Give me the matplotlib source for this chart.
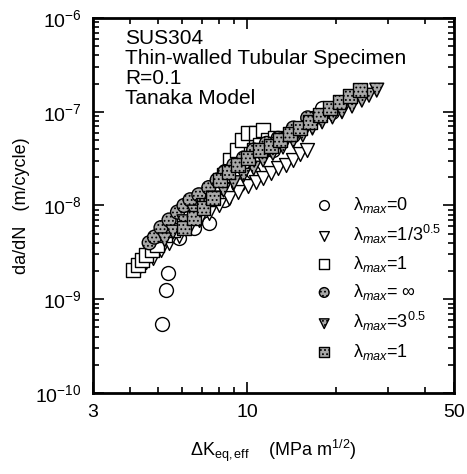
import numpy as np
import matplotlib
matplotlib.use("Agg")
import matplotlib.pyplot as plt
from matplotlib.ticker import NullFormatter, FixedLocator, LogLocator

plt.rcParams['font.family'] = ['Liberation Sans', 'DejaVu Sans']
plt.rcParams['mathtext.fontset'] = 'custom'
plt.rcParams['mathtext.rm'] = 'Liberation Sans'
plt.rcParams['mathtext.it'] = 'Liberation Sans:italic'
plt.rcParams['hatch.linewidth'] = 0.8

# lambda_max = 0 (open circles)
k_l0 = [5.15, 5.31, 5.38, 5.87, 6.6, 7.4, 8.3, 9.32, 10.46, 12.2, 14.25, 16.6, 17.9, 19.4]
r_l0 = [5.4e-10, 1.26e-9, 1.9e-9, 4.5e-9, 5.75e-9, 6.5e-9, 1.15e-8, 1.65e-8, 2.28e-8,
        3.9e-8, 5.65e-8, 8.6e-8, 1.1e-7, 1.0e-7]

# lambda_max = 1/3^0.5 (open triangles)
k_l13 = [4.31, 4.55, 4.8, 5.1, 5.43, 5.87, 6.34, 6.85, 7.4, 8.0, 8.63, 9.3, 10.07, 10.7,
         11.3, 12.0, 12.7, 13.5, 14.3, 15.1, 15.9]
r_l13 = [2.15e-9, 2.5e-9, 2.75e-9, 3.35e-9, 4.0e-9, 4.7e-9, 5.75e-9, 7.0e-9, 8.3e-9, 1.0e-8,
         1.2e-8, 1.4e-8, 1.6e-8, 1.8e-8, 1.98e-8, 2.2e-8, 2.5e-8, 2.7e-8, 3.06e-8, 3.5e-8, 3.9e-8]

# lambda_max = 1 (open squares)
k_l1 = [4.1, 4.25, 4.4, 4.55, 4.75, 4.95, 5.25, 5.6, 6.1, 6.85, 7.65, 8.3, 8.75, 9.2, 9.6,
        10.07, 10.7, 11.3, 11.05, 11.7, 12.4, 10.5]
r_l1 = [2.05e-9, 2.3e-9, 2.6e-9, 2.95e-9, 3.35e-9, 3.8e-9, 4.9e-9, 5.5e-9, 7.9e-9, 1.0e-8,
        1.46e-8, 2.1e-8, 3.06e-8, 3.9e-8, 5.0e-8, 5.9e-8, 5.9e-8, 6.4e-8, 4.4e-8, 5.0e-8,
        5.2e-8, 3.9e-8]

# lambda_max = infinity (hatched circles)
k_linf = [4.65, 4.85, 5.1, 5.43, 5.8, 6.1, 6.4, 6.85, 7.4, 7.9, 8.4, 9.0, 9.7, 10.5, 11.6,
          12.7, 14.3, 16.0]
r_linf = [4.0e-9, 4.6e-9, 5.8e-9, 7.0e-9, 8.5e-9, 1.0e-8, 1.15e-8, 1.3e-8, 1.55e-8, 1.87e-8,
          2.3e-8, 2.7e-8, 3.2e-8, 3.9e-8, 4.6e-8, 5.2e-8, 6.7e-8, 8.6e-8]

# lambda_max = 3^0.5 (hatched triangles)
k_l3 = [5.25, 5.6, 6.1, 6.6, 7.1, 7.65, 8.3, 9.0, 9.7, 10.5, 11.3, 12.2, 13.2, 14.3, 15.4,
        16.6, 17.9, 19.4, 20.9, 22.6, 24.4, 25.8, 27.4]
r_l3 = [4.3e-9, 5.2e-9, 6.7e-9, 8.5e-9, 1.0e-8, 1.2e-8, 1.46e-8, 1.75e-8, 2.1e-8, 2.5e-8,
        3.06e-8, 3.6e-8, 4.2e-8, 4.9e-8, 5.65e-8, 6.7e-8, 7.8e-8, 8.8e-8, 1.0e-7, 1.15e-7,
        1.33e-7, 1.5e-7, 1.7e-7]

# lambda_max = 1 (hatched squares)
k_l1b = [6.1, 6.6, 7.1, 7.65, 8.1, 8.63, 9.3, 10.07, 11.0, 12.0, 12.9, 13.9, 15.1, 16.3,
         17.6, 19.0, 20.5, 22.2, 24.0]
r_l1b = [5.75e-9, 7.3e-9, 9.4e-9, 1.2e-8, 1.87e-8, 2.3e-8, 2.7e-8, 3.2e-8, 3.9e-8, 4.3e-8,
         5.0e-8, 5.8e-8, 6.7e-8, 7.8e-8, 9.2e-8, 1.1e-7, 1.27e-7, 1.47e-7, 1.7e-7]

fig = plt.figure(figsize=(4.67, 4.74), dpi=100)
ax = fig.add_axes([0.199, 0.171, 0.773, 0.791])

ms = 100
gray = '#a8a8a8'
ax.scatter(k_l0, r_l0, s=ms, marker='o', facecolor='white', edgecolor='black', linewidth=1.0,
           label='\u03bb$_{max}$=0', zorder=3)
ax.scatter(k_l13, r_l13, s=ms, marker='v', facecolor='white', edgecolor='black', linewidth=1.0,
           label='\u03bb$_{max}$=1/3$^{0.5}$', zorder=3)
ax.scatter(k_l1, r_l1, s=ms, marker='s', facecolor='white', edgecolor='black', linewidth=1.0,
           label='\u03bb$_{max}$=1', zorder=3)
ax.scatter(k_linf, r_linf, s=ms, marker='o', facecolor=gray, edgecolor='black', linewidth=1.0,
           hatch='....', label='\u03bb$_{max}$= \u221e', zorder=4)
ax.scatter(k_l3, r_l3, s=ms, marker='v', facecolor=gray, edgecolor='black', linewidth=1.0,
           hatch='....', label='\u03bb$_{max}$=3$^{0.5}$', zorder=4)
ax.scatter(k_l1b, r_l1b, s=ms, marker='s', facecolor=gray, edgecolor='black', linewidth=1.0,
           hatch='....', label='\u03bb$_{max}$=1', zorder=4)

ax.set_xscale('log')
ax.set_yscale('log')
ax.set_xlim(3, 50)
ax.set_ylim(1e-10, 1e-6)

ax.xaxis.set_major_locator(FixedLocator([3, 10, 50]))
ax.set_xticklabels(['3', '10', '50'])
ax.xaxis.set_minor_locator(LogLocator(base=10, subs=np.arange(2, 10), numticks=20))
ax.xaxis.set_minor_formatter(NullFormatter())
ax.yaxis.set_major_locator(FixedLocator([1e-10, 1e-9, 1e-8, 1e-7, 1e-6]))
ax.set_yticklabels([r'10$^{-10}$', r'10$^{-9}$', r'10$^{-8}$', r'10$^{-7}$', r'10$^{-6}$'])
ax.yaxis.set_minor_locator(LogLocator(base=10, subs=np.arange(2, 10), numticks=20))
ax.yaxis.set_minor_formatter(NullFormatter())

ax.tick_params(which='both', direction='in', top=True, right=True, labelsize=14, width=1.2)
ax.tick_params(which='major', length=8, pad=8)
ax.tick_params(which='minor', length=4)
for sp in ax.spines.values():
    sp.set_linewidth(2)

ax.set_xlabel('\u0394K$_\\mathrm{eq,eff}$    (MPa m$^{1/2}$)', fontsize=13, labelpad=12)
ax.set_ylabel('da/dN   (m/cycle)', fontsize=13, labelpad=4)

ax.text(0.09, 0.97, 'SUS304\nThin-walled Tubular Specimen\nR=0.1\nTanaka Model',
        transform=ax.transAxes, ha='left', va='top', fontsize=15, linespacing=1.07)

leg = ax.legend(loc='lower right', frameon=False, fontsize=13, labelspacing=0.45,
                handletextpad=0.6, markerscale=0.7, borderaxespad=0.3,
                bbox_to_anchor=(1.0, 0.05))

fig.savefig('out.png', dpi=100)
